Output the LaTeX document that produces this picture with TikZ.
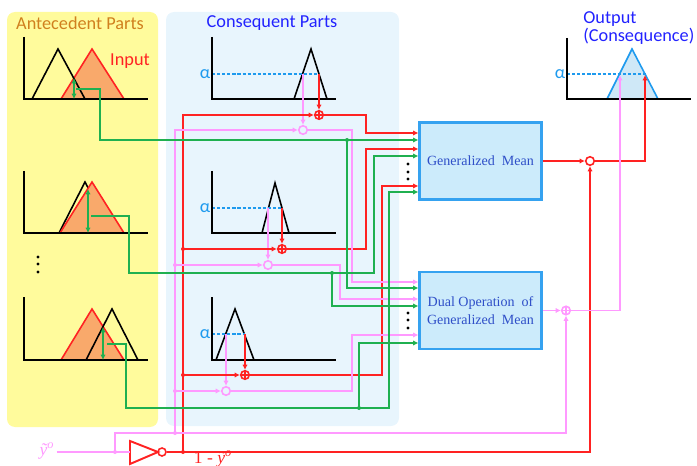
\documentclass[tikz,border=0pt]{standalone}
\usepackage{fontspec}
\setmainfont{Carlito}
\newfontfamily\boxfont{Liberation Serif}
\usetikzlibrary{arrows.meta}
\definecolor{wred}{HTML}{FF2222}
\definecolor{wgreen}{HTML}{1FB050}
\definecolor{wpink}{HTML}{FF99FF}
\definecolor{antfill}{HTML}{F9A96B}
\definecolor{panelyel}{HTML}{FFFB9C}
\definecolor{panelblue}{HTML}{E8F5FD}
\definecolor{boxfill}{HTML}{CCEBFB}
\definecolor{boxline}{HTML}{35A2F0}
\definecolor{alphablue}{HTML}{1E9AEE}
\definecolor{outfill}{HTML}{CFE8F7}
\definecolor{titleblue}{HTML}{2222FF}
\definecolor{titleorange}{HTML}{D0801E}
\definecolor{boxtext}{HTML}{2F4FC8}
\def\axes(#1,#2,#3){\draw[axisline] (#1,#2) -- (#1,#3) -- ++(124,0);}
\def\alphacut(#1,#2){\draw[alphaline] (212,#1) -- (#2,#1); \node[alphalabel] at (205,#1) {α};}
\def\ytilde{{\boxfont\itshape ỹ\textsuperscript{o}}}

\tikzset{
  axisline/.style={line width=1.2pt, black},
  tri/.style={line width=0.9pt},
  alphaline/.style={line width=0.8pt, alphablue, dash pattern=on 1.8pt off 1.1pt},
  alphalabel/.style={alphablue, font=\fontsize{10.4}{12}\selectfont, inner sep=0pt},
  title/.style={font=\fontsize{10.4}{12}\selectfont, inner sep=0pt},
  wire/.style={line width=1.1pt},
  redw/.style={wire, wred},
  greenw/.style={wire, wgreen},
  pinkw/.style={wire, wpink},
  tip/.style={-{Latex[length=3pt,width=3pt]}},
  dtip/.style={{Latex[length=3pt,width=3pt]}-{Latex[length=3pt,width=3pt]}},
  jdot/.style={circle, fill, inner sep=0pt, minimum size=0.08cm},
  cmpnode/.style={circle, draw, inner sep=0pt, minimum size=0.17cm, line width=0.9pt},
  sumnode/.style={cmpnode, path picture={\draw[line width=0.7pt]
      (path picture bounding box.north) -- (path picture bounding box.south)
      (path picture bounding box.west) -- (path picture bounding box.east);}},
  opbox/.style={draw=boxline, fill=boxfill, line width=1.2pt, minimum width=2.44cm,
      minimum height=1.54cm, inner sep=0pt, align=center, text=boxtext,
      font=\boxfont\fontsize{8}{10}\selectfont}
}

\begin{document}
\begin{tikzpicture}[x=0.02cm, y=-0.02cm]
  \useasboundingbox (0,0) rectangle (697,466);
  %%%%% PANELS %%%%%
  \fill[panelyel, rounded corners=0.16cm] (7,12) rectangle (158,427);
  \fill[panelblue, rounded corners=0.16cm] (166,12) rectangle (399,426);
  \node[title, titleorange] (anttitle) at (80,23) {Antecedent Parts};
  \node[title, titleblue] (contitle) at (272,23) {Consequent Parts};
  \node[title, wred] (input) at (130,61) {Input};
  \node[title, titleblue, align=left, anchor=west, font=\fontsize{10.4}{8}\selectfont] (outtitle) at (583,28) {Output\\(Consequence)};

  %%%%% ANTECEDENT PARTS %%%%%
  \filldraw[tri, wred, fill=antfill] (61,99) -- (92,49) -- (124,99) -- cycle;
  \draw[tri] (32,99) -- (58,49) -- (85,99);
  \axes(24,37,99)
  \draw[greenw, dtip] (74,78) -- (74,99);
  \coordinate (g1) at (76,89);

  \draw[tri] (59,233) -- (85,182) -- (112,233);
  \filldraw[tri, wred, fill=antfill] (60,233) -- (92,182) -- (124,233) -- cycle;
  \axes(24,171,233)
  \draw[greenw, dtip] (88,189) -- (88,233);
  \coordinate (g2) at (91,216);

  \filldraw[tri, wred, fill=antfill] (61,360) -- (92,309) -- (124,360) -- cycle;
  \draw[tri] (86,360) -- (112,309) -- (138,360);
  \axes(24,297,360)
  \draw[greenw, dtip] (103,327) -- (103,360);
  \coordinate (g3) at (107,344);

  \foreach \y in {257,264,272} \fill (38,\y) circle (0.032cm);

  %%%%% CONSEQUENT PARTS %%%%%
  \draw[tri] (294,99) -- (311,49) -- (327,99);
  \alphacut(74,319)
  \axes(212,37,99)
  \draw[tri] (262,233) -- (275,183) -- (289,233);
  \alphacut(208,282)
  \axes(212,171,233)
  \draw[tri] (216,360) -- (235,309) -- (254,360);
  \alphacut(334,245)
  \axes(212,297,360)

  \node[sumnode, wred] (p1) at (319,115) {};
  \node[cmpnode, wpink] (c1) at (303,130) {};
  \node[sumnode, wred] (p2) at (282,249) {};
  \node[cmpnode, wpink] (c2) at (268,265) {};
  \node[sumnode, wred] (p3) at (245,375) {};
  \node[cmpnode, wpink] (c3) at (226,391) {};
  \draw[redw, tip] (319,74) -- (p1.north);
  \draw[pinkw, tip] (303,74) -- (c1.north);
  \draw[redw, tip] (282,208) -- (p2.north);
  \draw[pinkw, tip] (268,208) -- (c2.north);
  \draw[redw, tip] (245,334) -- (p3.north);
  \draw[pinkw, tip] (226,334) -- (c3.north);

  %%%%% OPERATORS %%%%%
  \node[opbox] (gm) at (480.5,161) {Generalized\ \ Mean};
  \node[opbox] (dual) at (480.5,310.5) {Dual\ Operation\ \ of\\Generalized\ \ Mean};
  \foreach \y in {164,172,179,313,320,328} \fill (408,\y) circle (0.032cm);

  %%%%% OUTPUT %%%%%
  \filldraw[tri, alphablue, fill=outfill] (607,99) -- (632,49) -- (658,99) -- cycle;
  \draw[alphaline] (567,74) -- (646,74);
  \node[alphalabel] at (560,74) {α};
  \draw[axisline] (567,38) -- (567,99) -- (691,99);
  \coordinate (oright) at (645,75);
  \coordinate (oleft) at (620,75);
  \node[cmpnode, wred] (oc) at (590,161) {};
  \node[sumnode, wpink] (dp) at (566,310.5) {};

  %%%%% INPUT AND INVERTER %%%%%
  \node[wpink, inner sep=1pt, font=\fontsize{10}{12}\selectfont] (yin) at (47,451) {\ytilde};
  \draw[redw] (130,441) -- (158,452) -- (130,464) -- cycle;
  \coordinate (invin) at (130,452);
  \node[cmpnode, wred, minimum size=0.16cm] (bub) at (162,452) {};
  \node[wred, inner sep=0pt, font=\boxfont\fontsize{10}{12}\selectfont] (notlab) at (213,459) {1 - \ytilde};

  %%%%% RED WIRES %%%%%
  \coordinate (rtop) at (183,115);
  \coordinate (r2) at (183,249);
  \coordinate (r3) at (183,375);
  \coordinate (rbot) at (183,452);
  \draw[redw, tip] (bub.east) -| (oc.south);
  \draw[redw, tip] (rbot) -- (rtop) -- (p1.west);
  \draw[redw, tip] (r2) -- (p2.west);
  \draw[redw, tip] (r3) -- (p3.west);
  \draw[redw, tip] (p1.east) -| (366,133) -- (gm.west |- 0,133);
  \draw[redw, tip] (p2.east) -| (366,149) -- (gm.west |- 0,149);
  \draw[redw, tip] (p3.east) -| (382,186) -- (gm.west |- 0,186);
  \draw[redw, tip] (gm.east) -- (oc.west);
  \draw[redw, tip] (oc.east) -| (oright);
  \foreach \j in {r2,r3,rbot} \node[jdot, wred] at (\j) {};

  %%%%% PINK WIRES %%%%%
  \coordinate (ysplit) at (115,452);
  \coordinate (pbot) at (175,433);
  \coordinate (pk2) at (175,265);
  \coordinate (pk3) at (175,391);
  \coordinate (ptop) at (175,130);
  \draw[pinkw] (yin.east |- invin) -- (invin);
  \draw[pinkw, tip] (ysplit) |- (pbot) -| (dp.south);
  \draw[pinkw, tip] (pbot) -- (ptop) -- (c1.west);
  \draw[pinkw, tip] (pk2) -- (c2.west);
  \draw[pinkw, tip] (pk3) -- (c3.west);
  \draw[pinkw, tip] (c1.east) -| (352,282) -- (dual.west |- 0,282);
  \draw[pinkw, tip] (c2.east) -| (340,299) -- (dual.west |- 0,299);
  \draw[pinkw, tip] (c3.east) -| (352,335) -- (dual.west |- 0,335);
  \draw[pinkw, tip] (dual.east) -- (dp.west);
  \draw[pinkw, tip] (dp.east) -| (oleft);
  \foreach \j in {ysplit,pbot,pk2,pk3} \node[jdot, wpink] at (\j) {};

  %%%%% GREEN WIRES %%%%%
  \coordinate (gd1) at (347,140);
  \coordinate (gd2) at (332,273);
  \coordinate (gd3) at (359,408);
  \draw[greenw, tip] (g1) -| (100,140) -- (gm.west |- 0,140);
  \draw[greenw, tip] (g2) -| (129,273) -| (374,156) -- (gm.west |- 0,156);
  \draw[greenw, tip] (g3) -| (126,408) -| (389,192) -- (gm.west |- 0,192);
  \draw[greenw, tip] (gd1) |- (dual.west |- 0,288);
  \draw[greenw, tip] (gd2) |- (dual.west |- 0,306);
  \draw[greenw, tip] (gd3) |- (dual.west |- 0,343);
  \foreach \j in {gd1,gd2,gd3} \node[jdot, wgreen] at (\j) {};
\end{tikzpicture}
\end{document}
